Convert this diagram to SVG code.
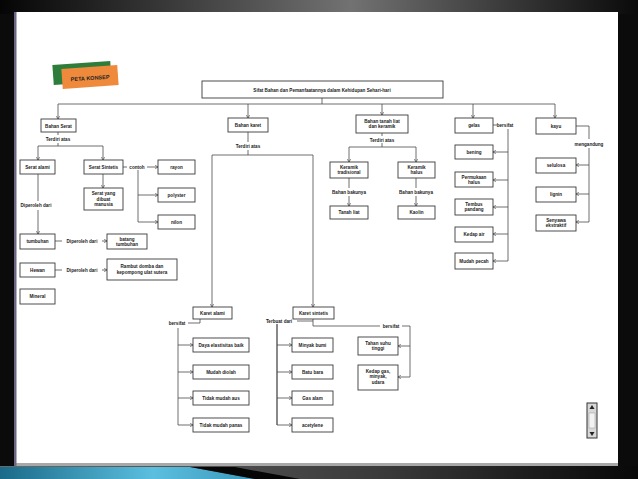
<svg xmlns="http://www.w3.org/2000/svg" width="638" height="479" viewBox="0 0 638 479">
<defs>
<linearGradient id="topg" x1="0" y1="0" x2="1" y2="0">
<stop offset="0" stop-color="#050505"/><stop offset="0.55" stop-color="#727272"/><stop offset="1" stop-color="#0a0a0a"/>
</linearGradient>
<linearGradient id="teal" x1="0" y1="0" x2="1" y2="0">
<stop offset="0" stop-color="#1a6a88"/><stop offset="0.6" stop-color="#5cbfe0"/><stop offset="1" stop-color="#3a98bb"/>
</linearGradient>
<linearGradient id="botg" x1="0" y1="0" x2="1" y2="0">
<stop offset="0" stop-color="#6a6a6a"/><stop offset="0.6" stop-color="#3a3a3a"/><stop offset="1" stop-color="#080808"/>
</linearGradient>
<marker id="ar" viewBox="0 0 6 6" refX="5.5" refY="3" markerWidth="4" markerHeight="4" orient="auto">
<path d="M0,0 L6,3 L0,6" fill="none" stroke="#444" stroke-width="1.2"/>
</marker>
<style>
.box{fill:#fff;stroke:#3a3a3a;stroke-width:0.9}
.t{font-family:"Liberation Sans",Arial,sans-serif;font-size:4.6px;font-weight:bold;fill:#222;text-anchor:middle}
.c{fill:none;stroke:#4a4a4a;stroke-width:0.8}
.a{marker-end:url(#ar)}
</style>
</defs>
<rect x="0" y="0" width="638" height="479" fill="#0b0b0b"/>
<rect x="0" y="0" width="638" height="14" fill="url(#topg)"/>
<rect x="0" y="466" width="638" height="13" fill="url(#botg)"/>
<polygon points="0,467 190,467 255,479 0,479" fill="url(#teal)"/>
<polygon points="190,467 235,467 300,479 255,479" fill="#060606"/>
<rect x="16" y="12" width="602" height="453" fill="#ffffff"/>
<rect x="16" y="463" width="602" height="3" fill="#a8a8a8"/>
<rect x="14" y="12" width="2.5" height="454" fill="#6e6684"/>

<g id="badge">
<rect x="53" y="63" width="58" height="20" fill="#2f7d3b" transform="rotate(-4 82 73)"/>
<rect x="62" y="67" width="56" height="20" fill="#ef8a3c" transform="rotate(-4 90 77)"/>
<text x="90" y="80" class="t" style="font-size:5.5px" transform="rotate(-4 90 77)">PETA KONSEP</text>
</g>

<g id="connectors">
<path class="c" d="M322,98 V104 M58,104 H555"/>
<path class="c a" d="M58,104 V119"/>
<path class="c" d="M58,132 V135 M58,143 V146 M38,146 H103"/>
<path class="c a" d="M38,146 V160"/>
<path class="c a" d="M103,146 V160"/>
<path class="c" d="M123,167 H127"/>
<path class="c a" d="M147,167 H158"/>
<path class="c" d="M138,170 V222"/>
<path class="c a" d="M138,195 H158"/>
<path class="c a" d="M138,222 H158"/>
<path class="c a" d="M103,174 V188"/>
<path class="c" d="M38,174 V201"/>
<path class="c a" d="M38,210 V234"/>
<path class="c" d="M55,241 H62"/>
<path class="c a" d="M102,241 H107"/>
<path class="c" d="M55,270 H62"/>
<path class="c a" d="M102,270 H107"/>

<path class="c a" d="M248,104 V118"/>
<path class="c" d="M248,132 V142 M248,150 V155 M212,155 H313"/>
<path class="c a" d="M212,155 V307"/>
<path class="c a" d="M313,155 V307"/>
<path class="c" d="M188,323 H200 V319 M178,328 V425"/>
<path class="c a" d="M178,345 H193"/>
<path class="c a" d="M178,372 H193"/>
<path class="c a" d="M178,398 H193"/>
<path class="c a" d="M178,425 H193"/>
<path class="c" d="M297,321 H313 M313,319 V326 H380 M402,326 H410 V377"/>
<path class="c" d="M277,324 V425" style="stroke-width:1.3"/>
<path class="c a" d="M277,345 H292"/>
<path class="c a" d="M277,372 H292"/>
<path class="c a" d="M277,398 H292"/>
<path class="c a" d="M277,425 H292"/>
<path class="c a" d="M410,346 H398"/>
<path class="c a" d="M410,377 H398"/>

<path class="c a" d="M382,104 V115"/>
<path class="c" d="M382,133 V136 M382,143 V147 M349,147 H416"/>
<path class="c a" d="M349,147 V162"/>
<path class="c a" d="M416,147 V162"/>
<path class="c" d="M349,178 V188 M416,178 V188"/>
<path class="c a" d="M349,196 V206"/>
<path class="c a" d="M416,196 V206"/>

<path class="c a" d="M473,104 V118"/>
<path class="c" d="M493,125 H497 M508,129 V261"/>
<path class="c a" d="M508,152 H493"/>
<path class="c a" d="M508,180 H493"/>
<path class="c a" d="M508,207 H493"/>
<path class="c a" d="M508,234 H493"/>
<path class="c a" d="M508,261 H493"/>

<path class="c a" d="M555,104 V118"/>
<path class="c" d="M576,126 H589 V139 M589,148 V222"/>
<path class="c a" d="M589,165 H576"/>
<path class="c a" d="M589,194 H576"/>
<path class="c a" d="M589,222 H576"/>
</g>

<g id="title"><rect class="box" x="202" y="81" width="241" height="17"/><text class="t" x="322" y="91.5">Sifat Bahan dan Pemanfaatannya dalam Kehidupan Sehari-hari</text></g>

<g id="bahan-serat"><rect class="box" x="41" y="119" width="35" height="13"/><text class="t" x="58.5" y="127.5">Bahan Serat</text></g>
<text class="t" x="58" y="141">Terdiri atas</text>
<g id="serat-alami"><rect class="box" x="20" y="160" width="35" height="14"/><text class="t" x="37.5" y="168.5">Serat alami</text></g>
<g id="serat-sintetis"><rect class="box" x="84" y="160" width="39" height="14"/><text class="t" x="103.5" y="168.5">Serat Sintetis</text></g>
<text class="t" x="137" y="169">contoh</text>
<g id="rayon"><rect class="box" x="158" y="160" width="37" height="14"/><text class="t" x="176.5" y="168.5">rayon</text></g>
<g id="polyster"><rect class="box" x="158" y="188" width="37" height="14"/><text class="t" x="176.5" y="196.5">polyster</text></g>
<g id="nilon"><rect class="box" x="158" y="215" width="37" height="14"/><text class="t" x="176.5" y="223.5">nilon</text></g>
<g id="serat-manusia"><rect class="box" x="84" y="188" width="39" height="22"/><text class="t" x="103.5" y="195"><tspan x="103.5">Serat yang</tspan><tspan x="103.5" dy="5.5">dibuat</tspan><tspan x="103.5" dy="5.5">manusia</tspan></text></g>
<text class="t" x="36" y="207">Diperoleh dari</text>
<g id="tumbuhan"><rect class="box" x="20" y="234" width="35" height="15"/><text class="t" x="37.5" y="243">tumbuhan</text></g>
<text class="t" x="82" y="243">Diperoleh dari</text>
<g id="batang"><rect class="box" x="107" y="234" width="40" height="15"/><text class="t" x="127" y="240.5"><tspan x="127">batang</tspan><tspan x="127" dy="5.5">tumbuhan</tspan></text></g>
<g id="hewan"><rect class="box" x="20" y="263" width="35" height="14"/><text class="t" x="37.5" y="271.5">Hewan</text></g>
<text class="t" x="82" y="272">Diperoleh dari</text>
<g id="rambut"><rect class="box" x="107" y="259" width="70" height="21"/><text class="t" x="142" y="267.5"><tspan x="142">Rambut domba dan</tspan><tspan x="142" dy="6">kepompong ulat sutera</tspan></text></g>
<g id="mineral"><rect class="box" x="20" y="289" width="35" height="15"/><text class="t" x="37.5" y="298">Mineral</text></g>

<g id="bahan-karet"><rect class="box" x="228" y="118" width="40" height="14"/><text class="t" x="248" y="126.5">Bahan karet</text></g>
<text class="t" x="248" y="148">Terdiri atas</text>
<g id="karet-alami"><rect class="box" x="193" y="307" width="39" height="12"/><text class="t" x="212.5" y="314.5">Karet alami</text></g>
<g id="karet-sintetis"><rect class="box" x="293" y="307" width="41" height="12"/><text class="t" x="313.5" y="314.5">Karet sintetis</text></g>
<text class="t" x="177" y="325">bersifat</text>
<g id="daya"><rect class="box" x="193" y="338" width="56" height="14"/><text class="t" x="221" y="346.5">Daya elastisitas baik</text></g>
<g id="mudah-diolah"><rect class="box" x="193" y="365" width="56" height="14"/><text class="t" x="221" y="373.5">Mudah diolah</text></g>
<g id="tidak-aus"><rect class="box" x="193" y="391" width="56" height="14"/><text class="t" x="221" y="399.5">Tidak mudah aus</text></g>
<g id="tidak-panas"><rect class="box" x="193" y="418" width="56" height="14"/><text class="t" x="221" y="426.5">Tidak mudah panas</text></g>
<text class="t" x="279" y="323">Terbuat dari</text>
<g id="minyak-bumi"><rect class="box" x="292" y="338" width="41" height="14"/><text class="t" x="312.5" y="346.5">Minyak bumi</text></g>
<g id="batu-bara"><rect class="box" x="292" y="365" width="41" height="14"/><text class="t" x="312.5" y="373.5">Batu bara</text></g>
<g id="gas-alam"><rect class="box" x="292" y="391" width="41" height="14"/><text class="t" x="312.5" y="399.5">Gas alam</text></g>
<g id="acetylene"><rect class="box" x="292" y="418" width="41" height="14"/><text class="t" x="312.5" y="426.5">acetylene</text></g>
<text class="t" x="391" y="327.5">bersifat</text>
<g id="tahan-suhu"><rect class="box" x="358" y="337" width="40" height="18"/><text class="t" x="378" y="344.5"><tspan x="378">Tahan suhu</tspan><tspan x="378" dy="5.5">tinggi</tspan></text></g>
<g id="kedap-gas"><rect class="box" x="358" y="365" width="40" height="25"/><text class="t" x="378" y="372.5"><tspan x="378">Kedap gas,</tspan><tspan x="378" dy="5.5">minyak,</tspan><tspan x="378" dy="5.5">udara</tspan></text></g>

<g id="tanah-liat-keramik"><rect class="box" x="356" y="115" width="52" height="18"/><text class="t" x="382" y="122.5"><tspan x="382">Bahan tanah liat</tspan><tspan x="382" dy="5.5">dan keramik</tspan></text></g>
<text class="t" x="382" y="141.5">Terdiri atas</text>
<g id="keramik-tradisional"><rect class="box" x="330" y="162" width="38" height="16"/><text class="t" x="349" y="168.5"><tspan x="349">Keramik</tspan><tspan x="349" dy="5.5">tradisional</tspan></text></g>
<g id="keramik-halus"><rect class="box" x="398" y="162" width="37" height="16"/><text class="t" x="416.5" y="168.5"><tspan x="416.5">Keramik</tspan><tspan x="416.5" dy="5.5">halus</tspan></text></g>
<text class="t" x="349" y="193.5">Bahan bakunya</text>
<text class="t" x="416" y="193.5">Bahan bakunya</text>
<g id="tanah-liat"><rect class="box" x="330" y="206" width="38" height="13"/><text class="t" x="349" y="214">Tanah liat</text></g>
<g id="kaolin"><rect class="box" x="398" y="206" width="37" height="13"/><text class="t" x="416.5" y="214">Kaolin</text></g>

<g id="gelas"><rect class="box" x="455" y="118" width="38" height="15"/><text class="t" x="474" y="127">gelas</text></g>
<text class="t" x="505" y="127">bersifat</text>
<g id="bening"><rect class="box" x="455" y="145" width="38" height="14"/><text class="t" x="474" y="153.5">bening</text></g>
<g id="permukaan-halus"><rect class="box" x="455" y="172" width="38" height="15"/><text class="t" x="474" y="178.5"><tspan x="474">Permukaan</tspan><tspan x="474" dy="5.5">halus</tspan></text></g>
<g id="tembus-pandang"><rect class="box" x="455" y="199" width="38" height="16"/><text class="t" x="474" y="205.5"><tspan x="474">Tembus</tspan><tspan x="474" dy="5.5">pandang</tspan></text></g>
<g id="kedap-air"><rect class="box" x="455" y="227" width="38" height="15"/><text class="t" x="474" y="236">Kedap air</text></g>
<g id="mudah-pecah"><rect class="box" x="455" y="253" width="38" height="16"/><text class="t" x="474" y="262.5">Mudah pecah</text></g>

<g id="kayu"><rect class="box" x="536" y="118" width="40" height="16"/><text class="t" x="556" y="127.5">kayu</text></g>
<text class="t" x="589" y="145.5">mengandung</text>
<g id="selulosa"><rect class="box" x="536" y="158" width="40" height="15"/><text class="t" x="556" y="167">selulosa</text></g>
<g id="lignin"><rect class="box" x="536" y="187" width="40" height="15"/><text class="t" x="556" y="196">lignin</text></g>
<g id="senyawa"><rect class="box" x="536" y="215" width="40" height="16"/><text class="t" x="556" y="221.5"><tspan x="556">Senyawa</tspan><tspan x="556" dy="5.5">ekstraktif</tspan></text></g>

<g id="scroll">
<rect x="587" y="403" width="10" height="35" fill="#d8d8d8" stroke="#333" stroke-width="1"/>
<rect x="589" y="413" width="6" height="15" fill="#f2f2f2" stroke="#999" stroke-width="0.5"/>
<polygon points="592,405 589.5,409 594.5,409" fill="#222"/>
<polygon points="592,436 589.5,432 594.5,432" fill="#222"/>
</g>
</svg>
